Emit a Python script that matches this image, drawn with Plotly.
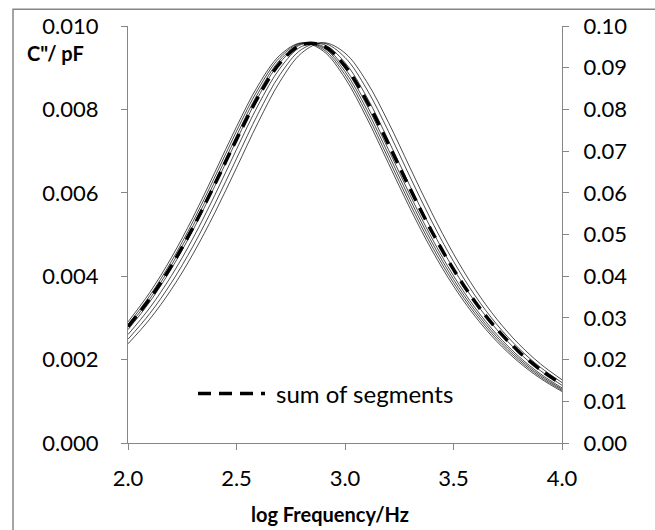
import plotly.graph_objects as go

# log frequency grid
log_f = [2.0, 2.1, 2.2, 2.3, 2.4, 2.5, 2.6, 2.7, 2.8, 2.9, 3.0,
         3.1, 3.2, 3.3, 3.4, 3.5, 3.6, 3.7, 3.8, 3.9, 4.0]

# individual segments (C'' / pF)
seg_1 = [0.002904, 0.003607, 0.004445, 0.005416, 0.006488, 0.007584, 0.008578, 0.009300, 0.009597, 0.009398, 0.008749,
         0.007796, 0.006708, 0.005624, 0.004629, 0.003763, 0.003034, 0.002433, 0.001944, 0.001550, 0.001235]
seg_2 = [0.002841, 0.003530, 0.004355, 0.005314, 0.006378, 0.007477, 0.008488, 0.009245, 0.009590, 0.009439, 0.008831,
         0.007900, 0.006819, 0.005729, 0.004723, 0.003844, 0.003101, 0.002488, 0.001989, 0.001586, 0.001263]
seg_3 = [0.002779, 0.003455, 0.004266, 0.005212, 0.006268, 0.007368, 0.008395, 0.009185, 0.009577, 0.009477, 0.008909,
         0.008003, 0.006929, 0.005836, 0.004819, 0.003925, 0.003169, 0.002544, 0.002034, 0.001622, 0.001292]
seg_4 = [0.002718, 0.003382, 0.004179, 0.005112, 0.006159, 0.007259, 0.008300, 0.009122, 0.009559, 0.009509, 0.008983,
         0.008104, 0.007040, 0.005943, 0.004915, 0.004009, 0.003239, 0.002601, 0.002080, 0.001660, 0.001322]
seg_5 = [0.002601, 0.003239, 0.004009, 0.004915, 0.005943, 0.007040, 0.008104, 0.008983, 0.009509, 0.009559, 0.009122,
         0.008300, 0.007259, 0.006159, 0.005112, 0.004179, 0.003382, 0.002718, 0.002176, 0.001737, 0.001384]
seg_6 = [0.002488, 0.003101, 0.003844, 0.004723, 0.005729, 0.006819, 0.007900, 0.008831, 0.009439, 0.009590, 0.009245,
         0.008488, 0.007477, 0.006378, 0.005314, 0.004355, 0.003530, 0.002841, 0.002275, 0.001817, 0.001448]
seg_7 = [0.002379, 0.002968, 0.003684, 0.004537, 0.005520, 0.006598, 0.007691, 0.008665, 0.009351, 0.009600, 0.009351,
         0.008665, 0.007691, 0.006598, 0.005520, 0.004537, 0.003684, 0.002968, 0.002379, 0.001901, 0.001516]
segments = [seg_1, seg_2, seg_3, seg_4, seg_5, seg_6, seg_7]

# sum of segments (normalised)
sum_segments = [0.002791, 0.003455, 0.004249, 0.005172, 0.006203, 0.007281, 0.008300, 0.009108, 0.009549, 0.009524, 0.009039,
                0.008202, 0.007171, 0.006094, 0.005073, 0.004162, 0.003382, 0.002730, 0.002196, 0.001761, 0.001410]

x_ticks = [2.0, 2.5, 3.0, 3.5, 4.0]
y_ticks = [0.000, 0.002, 0.004, 0.006, 0.008, 0.010]
y2_ticks = [0.00, 0.01, 0.02, 0.03, 0.04, 0.05, 0.06, 0.07, 0.08, 0.09, 0.10]

FONT = "Lato"
GRAY = "#868686"

fig = go.Figure()
for seg in segments:
    fig.add_trace(go.Scatter(x=log_f, y=seg, mode="lines", line=dict(color="black", width=0.7, shape="spline"),
                             showlegend=False, hoverinfo="skip"))
fig.add_trace(go.Scatter(x=log_f, y=sum_segments, mode="lines", name="sum of segments",
                         line=dict(color="black", width=3.5, dash="13px,8px", shape="spline"), showlegend=False))
# secondary (right) axis carrier
fig.add_trace(go.Scatter(x=[None], y=[None], yaxis="y2", mode="lines", showlegend=False, hoverinfo="skip"))

W, H = 655, 530
L, R, T, B = 128, 93, 22, 87
pw, ph = W - L - R, H - T - B

def px(xp):
    return (xp - L) / pw

def py(yp):
    return (H - B - yp) / ph

fig.update_layout(
    width=W, height=H,
    margin=dict(l=L, r=R, t=T, b=B),
    paper_bgcolor="white", plot_bgcolor="white",
    font=dict(family=FONT, size=22, color="black"),
    xaxis=dict(range=[2.0, 4.0], tickvals=x_ticks, ticktext=[f"{v:.1f}" for v in x_ticks],
               showgrid=False, zeroline=False, showline=True, linecolor=GRAY, linewidth=1.3,
               ticks="outside", ticklen=6, tickcolor=GRAY, tickwidth=1.3, ticklabelstandoff=9),
    yaxis=dict(range=[0, 0.010], tickvals=y_ticks, ticktext=[f"{v:.3f}" for v in y_ticks],
               showgrid=False, zeroline=False, showline=True, linecolor=GRAY, linewidth=1.3,
               ticks="outside", ticklen=6, tickcolor=GRAY, tickwidth=1.3, ticklabelstandoff=18),
    yaxis2=dict(range=[0, 0.10], tickvals=y2_ticks, ticktext=[f"{v:.2f}" for v in y2_ticks],
                overlaying="y", side="right", anchor="x",
                showgrid=False, zeroline=False, showline=True, linecolor=GRAY, linewidth=1.3,
                ticks="outside", ticklen=6, tickcolor=GRAY, tickwidth=1.3, ticklabelstandoff=10),
    showlegend=False,
)

# chart-area border
fig.add_shape(type="rect", xref="paper", yref="paper", x0=px(13), x1=px(720), y0=py(580), y1=py(5),
              line=dict(color=GRAY, width=1.5), fillcolor="rgba(0,0,0,0)", layer="below")

# legend sample
fig.add_shape(type="line", xref="paper", yref="paper", x0=px(198), x1=px(265), y0=py(393), y1=py(393),
              line=dict(color="black", width=3.5, dash="13px,8px"))
fig.add_annotation(text="sum of segments", xref="paper", yref="paper", x=px(274), y=py(393),
                   xanchor="left", yanchor="middle", showarrow=False, font=dict(family=FONT, size=24))

# axis titles
fig.add_annotation(text="<b>C\"/ pF</b>", xref="paper", yref="paper", x=px(55), y=py(49),
                   xanchor="center", yanchor="middle", showarrow=False, font=dict(family=FONT, size=20))
fig.add_annotation(text="<b>log Frequency/Hz</b>", xref="paper", yref="paper", x=px(330), y=py(515),
                   xanchor="center", yanchor="middle", showarrow=False, font=dict(family=FONT, size=20))

fig.write_html("out.html")
